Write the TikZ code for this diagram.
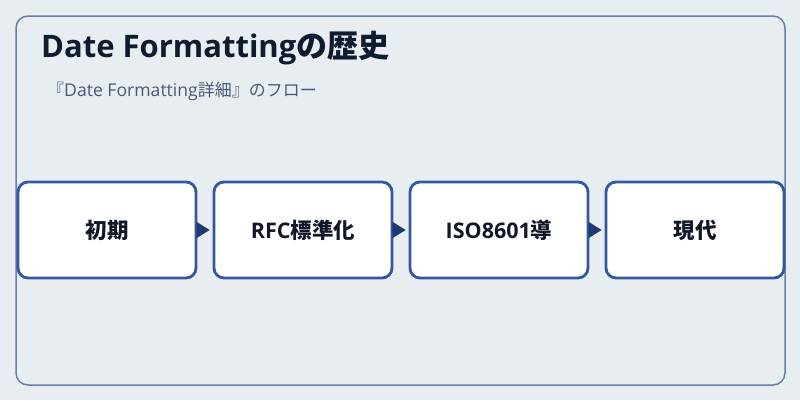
\documentclass[tikz,border=0pt]{standalone}
\usepackage{fontspec}
\setmainfont{Open Sans}
\newfontfamily\cjk{Noto Sans CJK JP}
\usetikzlibrary{arrows.meta}
\definecolor{bg}{HTML}{E8EDF2}
\definecolor{frame}{HTML}{6A7EAA}
\definecolor{boxline}{HTML}{3358A0}
\definecolor{arrowc}{HTML}{1E3A70}
\definecolor{titlec}{HTML}{0F1B2E}
\definecolor{subc}{HTML}{4A5A78}
\definecolor{textc}{HTML}{111827}
\tikzset{
  stepbox/.style={draw=boxline, line width=2.8pt, fill=white, rounded corners=10pt,
    minimum width=178pt, minimum height=96pt, inner sep=0pt,
    font=\fontsize{21.5}{24}\selectfont\bfseries, text=textc},
  flow/.style={draw=arrowc, fill=arrowc, line width=0.5pt, -{Triangle[length=13pt,width=16pt]},
    shorten >=3pt, shorten <=1.7pt}
}
\begin{document}
\begin{tikzpicture}[x=1pt,y=-1pt]
\useasboundingbox[fill=bg] (0,0) rectangle (800,400);
\draw[frame, line width=1.5pt, rounded corners=12pt] (16,16) rectangle (785,385);
\node[anchor=base west, font=\fontsize{31}{34}\selectfont\bfseries, text=titlec, inner sep=0pt] (title) at (41,57) {Date Formatting{\cjk の歴史}};
\node[anchor=base west, font=\fontsize{17.6}{20}\selectfont, text=subc, inner sep=0pt] (sub) at (47,96) {{\cjk\fontsize{17}{20}\selectfont 『}Date Formatting{\cjk\fontsize{17}{20}\selectfont 詳細』のフロー}};
\node[stepbox] (s1) at (107,230) {\cjk 初期};
\node[stepbox] (s2) at (303,230) {RFC{\cjk 標準化}};
\node[stepbox] (s3) at (499,230) {ISO8601{\cjk 導}};
\node[stepbox] (s4) at (695,230) {\cjk 現代};
\draw[flow] (s1) -- (s2);
\draw[flow] (s2) -- (s3);
\draw[flow] (s3) -- (s4);
\end{tikzpicture}
\end{document}
